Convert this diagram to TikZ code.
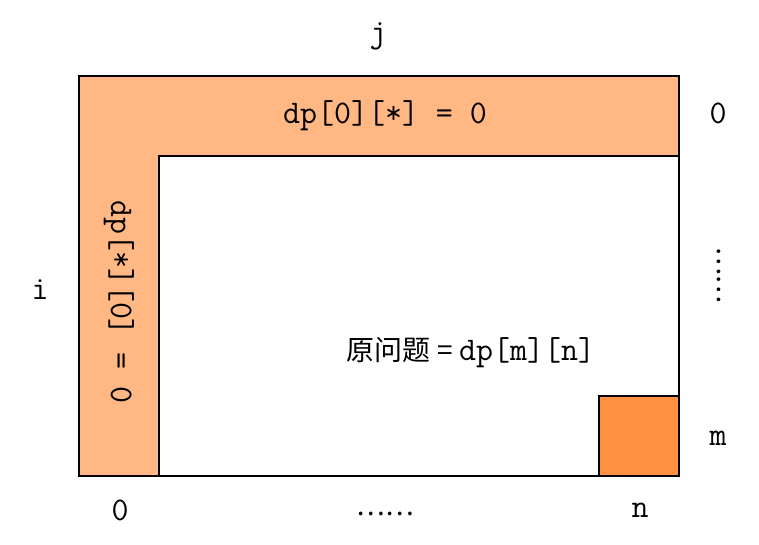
\documentclass[tikz,border=0pt]{standalone}
\usepackage{fontspec}
\newfontfamily\cjk{Noto Sans CJK SC}
\usetikzlibrary{positioning}
\definecolor{bandorange}{HTML}{FFB884}
\definecolor{goalorange}{HTML}{FF9142}
\tikzset{
  cell/.style={draw=black, line width=2pt, inner sep=0pt, outer sep=0pt},
  lbl/.style={inner sep=0pt, font=\ttfamily\fontsize{33}{38}\selectfont},
  dots/.style={inner sep=0pt, font=\cjk\fontsize{27}{32}\selectfont}
}
\begin{document}
\begin{tikzpicture}[x=1pt,y=-1pt]
\useasboundingbox (0,0) rectangle (759,545);

% dp table with its border rows
\node[cell, fill=bandorange, minimum width=600pt, minimum height=400pt]
  (table) at (379,276) {};
\node[cell, fill=white, minimum width=520pt, minimum height=320pt]
  (inner) at (419,316) {};
\node[cell, fill=goalorange, minimum width=80pt, minimum height=80pt]
  (goal) at (639,436) {};

\node[lbl] (toprow) at (385,116) {dp[0][*] = 0};
\node[lbl, rotate=-90] (leftcol) at (119,302) {dp[*][0] = 0};

\node[lbl] (target) at (471,353)
  {{\cjk\fontsize{28}{32}\selectfont 原问题 = }dp[m][n]};

% indices
\node[lbl] (j) at (378,36) {j};
\node[lbl] (i) at (40,290) {i};
\node[lbl] (row0) at (718,113) {0};
\node[dots, rotate=90] (rowdots) at (719,276) {……};
\node[lbl] (rowm) at (718,438) {m};
\node[lbl] (col0) at (120,510) {0};
\node[dots] (coldots) at (385,514) {……};
\node[lbl] (coln) at (640,510) {n};

\end{tikzpicture}
\end{document}
